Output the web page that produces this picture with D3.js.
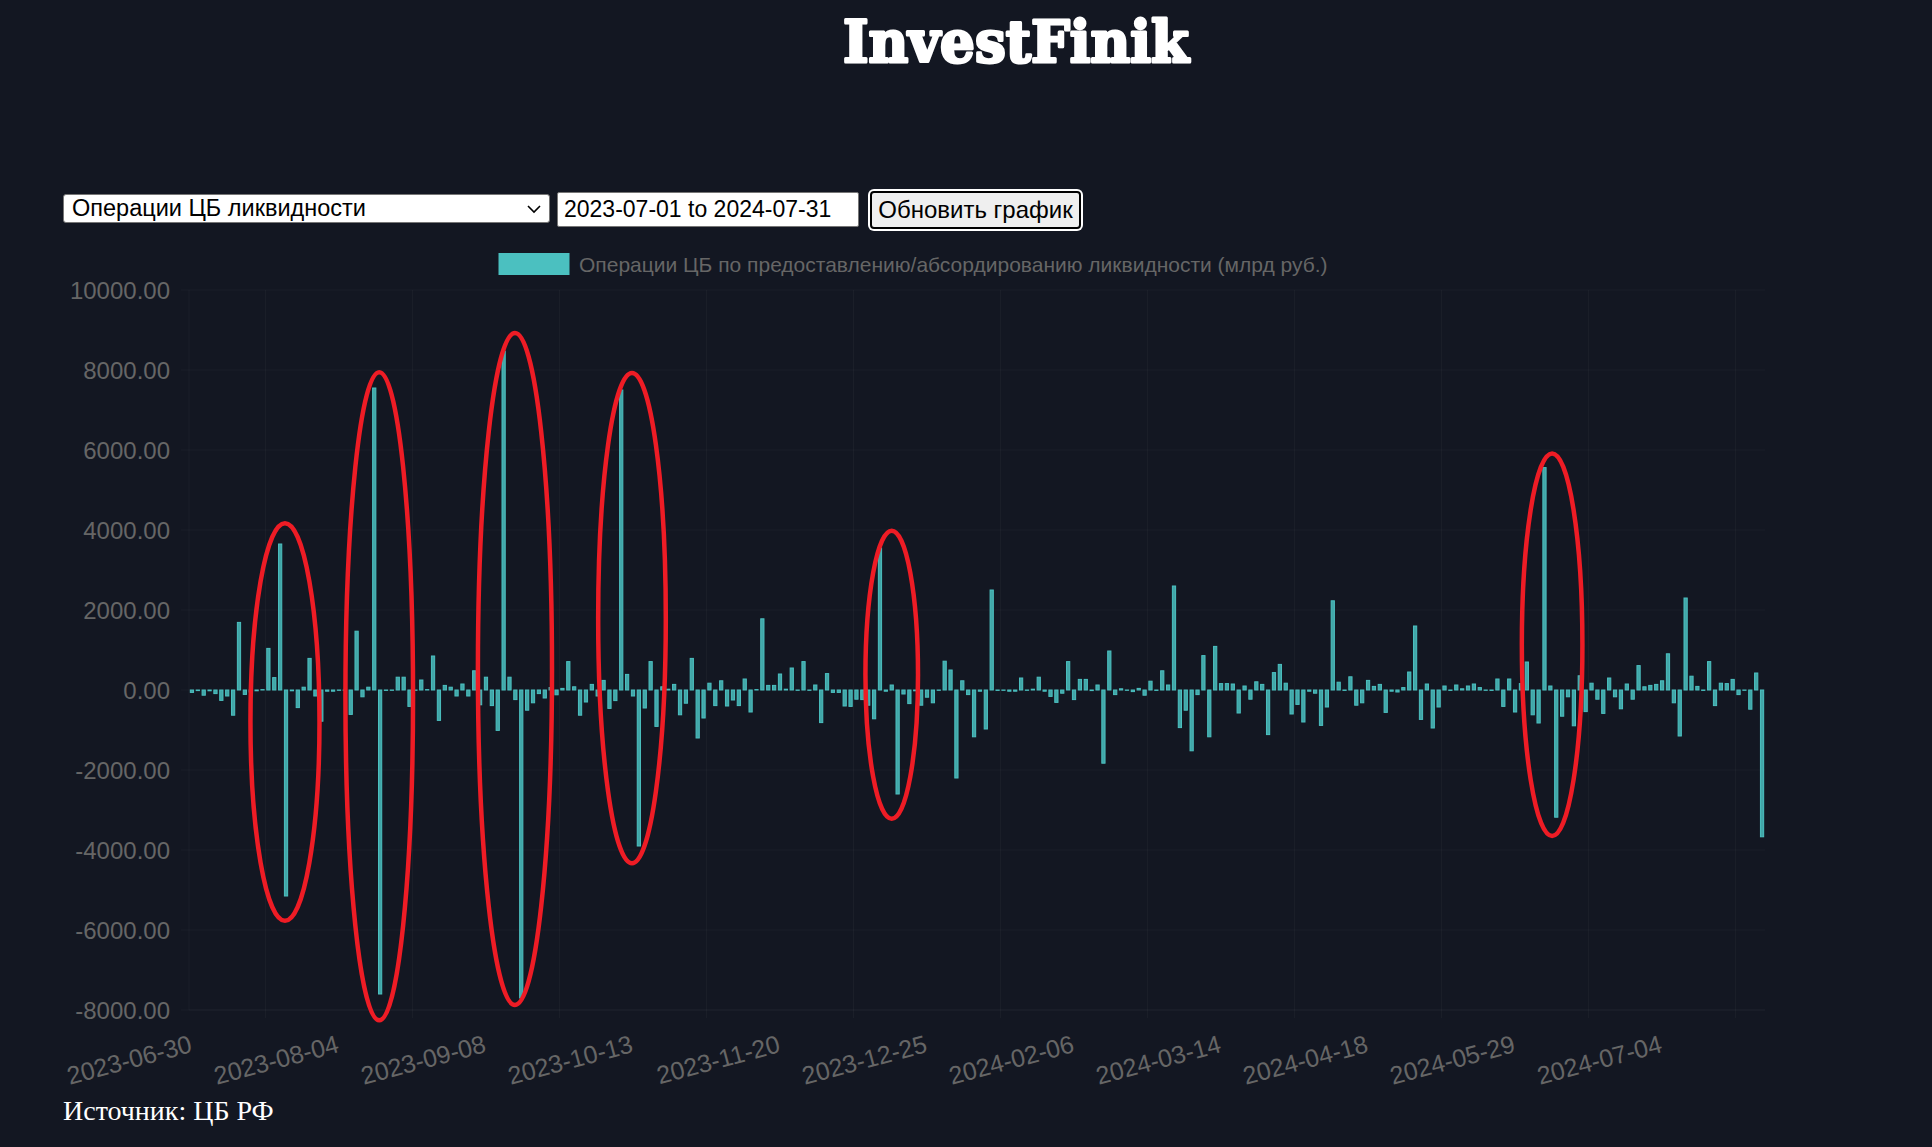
<!DOCTYPE html>
<html>
<head>
<meta charset="utf-8">
<script src="https://cdn.jsdelivr.net/npm/d3@7"></script>
<style>
  html, body { margin: 0; padding: 0; background: #131722; width: 1932px; height: 1147px; overflow: hidden; }
  #chart { position: absolute; left: 0; top: 0; }
  .ctrl { position: absolute; box-sizing: border-box; font-family: "Liberation Sans", Arial, sans-serif; color: #000; }
  #sel { left: 63px; top: 194px; width: 487px; height: 29px; background: #fff; border: 1px solid #767676; border-radius: 3px;
         font-size: 23.5px; line-height: 27px; padding-left: 8px; }
  #sel svg { position: absolute; right: 8px; top: 9px; }
  #dates { left: 557px; top: 192px; width: 302px; height: 35px; background: #fff; border: 1px solid #767676; border-radius: 2px;
           font-size: 23px; padding: 0 0 0 6px; outline: none; }
  #btn { left: 870px; top: 191px; width: 211px; height: 38px; background: #efefef; border: 2px solid #000; border-radius: 4px;
         box-shadow: 0 0 0 2px #fff; font-size: 24px; padding: 0; }
</style>
</head>
<body>
<svg id="chart" width="1932" height="1147"></svg>
<div class="ctrl" id="sel">Операции ЦБ ликвидности<svg width="14" height="10"><polyline points="1,2 7,8 13,2" fill="none" stroke="#000" stroke-width="1.6"/></svg></div>
<input class="ctrl" id="dates" type="text" value="2023-07-01 to 2024-07-31">
<button class="ctrl" id="btn">Обновить график</button>
<script>
// ---------------- DATA ----------------
const seriesName = "Операции ЦБ по предоставлению/абсордированию ликвидности (млрд руб.)";
const firstDate = "2023-06-30";
// non-trading / missing days inside the period
const skippedDays = ["2023-11-03", "2024-01-01", "2024-01-02", "2024-01-03", "2024-01-04", "2024-01-05", "2024-01-08",
  "2024-02-23", "2024-03-08", "2024-04-29", "2024-04-30", "2024-05-01", "2024-05-09", "2024-05-10", "2024-06-12"];
const extraTradingDays = ["2024-04-27"];
const tickLabels = ["2023-06-30", "2023-08-04", "2023-09-08", "2023-10-13", "2023-11-20", "2023-12-25",
  "2024-02-06", "2024-03-14", "2024-04-18", "2024-05-29", "2024-07-04"];
const yTicks = [10000, 8000, 6000, 4000, 2000, 0, -2000, -4000, -6000, -8000];
const values = [
  -60, -15, -130, -20, -90, -260, -150, -630, 1690, -110,
  -50, -20, 10, 1040, 310, 3650, -5150, -20, -440, 70,
  790, -150, -780, -30, -30, 0, 0, -610, 1470, -170,
  70, 7550, -7600, -10, 0, 320, 320, -410, 0, 250,
  10, 850, -760, 115, 70, -150, 150, -150, 480, -370,
  320, -390, -1010, 8470, 320, -240, -7700, -505, -320, -90,
  -200, 60, -120, 40, 710, 80, -630, -300, 140, -150,
  240, -460, -265, 7500, 390, -150, -3900, -450, 710, -910,
  80, 20, 140, -620, -330, 790, -1200, -700, 170, -390,
  230, -400, -250, -390, 275, -550, 10, 1780, 115, 115,
  400, 20, 550, 0, 710, 0, 125, -815, 410, -60,
  -60, -400, -410, -230, -240, -380, -720, 3550, -30, 125,
  -2600, -100, -340, -20, -380, -180, -320, 0, 720, 500,
  -2200, 230, -115, -1170, -30, -975, 2500, -10, 0, -30,
  -30, 300, 0, 20, 320, -30, -160, -310, -80, 710,
  -240, 265, 265, -15, 125, -1830, 975, -115, 30, 0,
  -40, 40, -130, 220, -10, 480, 125, 2600, -940, -505,
  -1520, -115, 860, -1170, 1090, 160, 160, 150, -575, 100,
  -230, 205, 140, -1115, 435, 640, 170, -600, -360, -800,
  -30, -80, -885, -425, 2230, 195, -10, 330, -380, -320,
  240, 90, 140, -560, -30, -50, 60, 450, 1600, -735,
  150, -950, -425, 100, -10, 125, 30, 100, 150, 60,
  0, -10, 275, -410, 275, -550, 160, 700, -620, -825,
  5560, 100, -3180, -655, -170, -895, 355, -540, 170, -230,
  -585, 300, -170, -470, 150, -230, 610, 80, 115, 140,
  230, 905, -320, -1150, 2300, 345, 90, -10, 710, -390,
  170, 160, 265, -115, 0, -480, 425, -3670
];
// highlighted groups (red ellipses): centre as category position, half-width in categories, top/bottom in value units
const highlightCenter = [15.82, 31.85, 54.93, 74.83, 119.0, 231.3];
const highlightHalfWidth = [5.87, 5.75, 6.3, 5.75, 4.47, 5.15];
const highlightTop = [4170, 7945, 8925, 7925, 3983, 5910];
const highlightBottom = [-5770, -8258, -7875, -4333, -3220, -3650];

// trading-day categories
const categories = [];
{
  const skip = new Set(skippedDays), extra = new Set(extraTradingDays);
  let d = new Date(firstDate + "T00:00:00Z");
  while (categories.length < values.length) {
    const s = d.toISOString().slice(0, 10);
    const wd = d.getUTCDay();
    if ((wd !== 0 && wd !== 6 && !skip.has(s)) || extra.has(s)) categories.push(s);
    d = new Date(d.getTime() + 86400000);
  }
}
const data = categories.map((c, i) => ({ date: c, value: values[i] }));

// ---------------- CHART ----------------
const svg = d3.select("#chart");
const gridColor = "rgba(255,255,255,0.035)";
const textColor = "#666";
const teal = "rgb(75,192,192)";
const plot = { left: 189, right: 1765, top: 290, bottom: 1010 };

const x = d3.scaleBand().domain(categories).range([plot.left, plot.right]).padding(0);
const y = d3.scaleLinear().domain([-8000, 10000]).range([plot.bottom, plot.top]);
const step = x.step();
const cx = d => x(d) + step / 2;

// title
svg.append("text").attr("x", 1016).attr("y", 62).attr("text-anchor", "middle")
  .attr("font-family", "'DejaVu Serif', serif").attr("font-weight", 900).attr("font-size", 58)
  .attr("fill", "#fff").attr("stroke", "#fff").attr("stroke-width", 3).attr("stroke-linejoin", "round")
  .attr("textLength", 346).attr("lengthAdjust", "spacingAndGlyphs")
  .text("InvestFinik");

// legend
svg.append("rect").attr("x", 499).attr("y", 253.5).attr("width", 70).attr("height", 21)
  .attr("fill", teal).attr("stroke", teal).attr("stroke-width", 1);
svg.append("text").attr("x", 579).attr("y", 264).attr("dominant-baseline", "central")
  .attr("font-family", "'Liberation Sans', Arial, sans-serif").attr("font-size", 21)
  .attr("fill", textColor).text(seriesName);

// y grid
svg.append("g").selectAll("line").data(yTicks).join("line")
  .attr("x1", plot.left - 8).attr("x2", plot.right)
  .attr("y1", d => y(d)).attr("y2", d => y(d))
  .attr("stroke", gridColor).attr("stroke-width", 1);

// x grid: offset grid lines between displayed ticks
const tickPx = tickLabels.map(cx);
const xGrid = tickPx.slice(1).map((p, i) => (p + tickPx[i]) / 2);
xGrid.push(tickPx[tickPx.length - 1] + (tickPx[tickPx.length - 1] - tickPx[tickPx.length - 2]) / 2);
svg.append("g").selectAll("line").data(xGrid).join("line")
  .attr("x1", d => d).attr("x2", d => d).attr("y1", plot.top).attr("y2", plot.bottom + 8)
  .attr("stroke", gridColor).attr("stroke-width", 1);
// axis borders
svg.append("line").attr("x1", plot.left).attr("x2", plot.left).attr("y1", plot.top).attr("y2", plot.bottom)
  .attr("stroke", gridColor);
svg.append("line").attr("x1", plot.left).attr("x2", plot.right).attr("y1", plot.bottom).attr("y2", plot.bottom)
  .attr("stroke", gridColor);

// bars
const bw = step * 0.72 - 1;
svg.append("g").selectAll("rect").data(data).join("rect")
  .attr("x", d => cx(d.date) - bw / 2)
  .attr("width", bw)
  .attr("y", d => y(Math.max(0, d.value)))
  .attr("height", d => Math.max(0.3, Math.abs(y(d.value) - y(0))))
  .attr("fill", "rgba(75,192,192,0.85)")
  .attr("stroke", teal).attr("stroke-width", 1);

// y axis
const yAxis = svg.append("g").attr("transform", `translate(${plot.left},0)`)
  .call(d3.axisLeft(y).tickValues(yTicks).tickFormat(d => d.toFixed(2)).tickSize(0).tickPadding(19));
yAxis.select(".domain").remove();
yAxis.selectAll("text").attr("fill", textColor).attr("font-size", 24)
  .attr("font-family", "'Liberation Sans', Arial, sans-serif").attr("dy", null).attr("dominant-baseline", "central");

// x axis
const xAxis = svg.append("g").attr("transform", `translate(0,${plot.bottom})`)
  .call(d3.axisBottom(x).tickValues(tickLabels).tickSize(0));
xAxis.select(".domain").remove();
xAxis.selectAll("text").attr("fill", textColor).attr("font-size", 25)
  .attr("font-family", "'Liberation Sans', Arial, sans-serif")
  .attr("y", 0).attr("dy", null).attr("text-anchor", "end").attr("dominant-baseline", "central")
  .attr("transform", "translate(-1,33) rotate(-15)");

// highlight ellipses
svg.append("g").selectAll("ellipse").data(highlightCenter).join("ellipse")
  .attr("cx", (c, i) => plot.left + (c + 0.5) * step)
  .attr("cy", (c, i) => (y(highlightTop[i]) + y(highlightBottom[i])) / 2)
  .attr("rx", (c, i) => highlightHalfWidth[i] * step)
  .attr("ry", (c, i) => (y(highlightBottom[i]) - y(highlightTop[i])) / 2)
  .attr("fill", "none").attr("stroke", "#ee1c25").attr("stroke-width", 4.5);

// source
svg.append("text").attr("x", 63).attr("y", 1120)
  .attr("font-family", "'Liberation Serif', 'Times New Roman', serif").attr("font-size", 28)
  .attr("fill", "#fff").text("Источник: ЦБ РФ");
</script>
</body>
</html>
